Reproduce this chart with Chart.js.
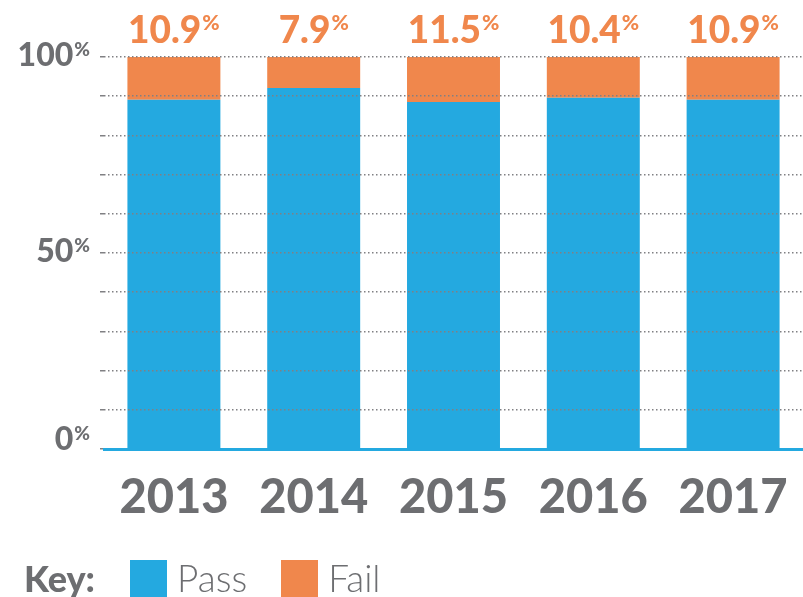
<!DOCTYPE html>
<html>
<head>
<meta charset="utf-8">
<script src="https://cdn.jsdelivr.net/npm/chart.js@4"></script>
<style>
  html, body { margin: 0; background: #fff; overflow: hidden; }
  #wrap { position: relative; width: 803px; height: 597px; overflow: hidden; }
  #key { position: absolute; left: 24px; top: 559px; display: flex; align-items: center; font-family: Lato, sans-serif; color: #6d6e71; line-height: 38px; }
  #key .title { font-weight: 900; font-size: 36px; margin-right: 35px; }
  #key .item { display: flex; align-items: center; margin-right: 34px; font-weight: 300; font-size: 37px; }
  #key .box { width: 37px; height: 37px; margin-right: 10px; }
</style>
</head>
<body>
<div id="wrap">
  <canvas id="chart"></canvas>
  <div id="key"><span class="title">Key:</span></div>
</div>
<script>
// data
const years = ["2013", "2014", "2015", "2016", "2017"];
const passPct = [89.1, 92.1, 88.5, 89.6, 89.1];
const failPct = [10.9, 7.9, 11.5, 10.4, 10.9];
const yTickLabels = [0, 50, 100];

const seriesNames = ["Pass", "Fail"];
const blue = "#24a9e0";
const orange = "#f0874c";
const grey = "#6d6e71";

// number with a small raised "%"
function drawPercent(ctx, num, x, baseline, big, small, color, align) {
    ctx.save();
    ctx.fillStyle = color;
    ctx.textBaseline = "alphabetic";
    ctx.textAlign = "left";
    ctx.font = "900 " + big + "px Lato";
    const wNum = ctx.measureText(num).width;
    ctx.font = "900 " + small + "px Lato";
    const wPct = ctx.measureText("%").width;
    const total = wNum + 1 + wPct;
    let left = x - total / 2;
    if (align === "right") left = x - total;
    ctx.font = "900 " + big + "px Lato";
    ctx.fillText(num, left, baseline);
    ctx.font = "900 " + small + "px Lato";
    ctx.fillText("%", left + wNum + 1, baseline - 0.72 * big + 0.72 * small - 1);
    ctx.restore();
}

const labelPlugin = {
    id: "labelPlugin",
    afterDraw(chart) {
        const ctx = chart.ctx;
        // y tick labels
        const y = chart.scales.y;
        yTickLabels.forEach(v => {
            const py = y.getPixelForValue(v);
            const off = v === 0 ? 1 : 9;
            drawPercent(ctx, String(v), 90, py + off, 32, 19, grey, "right");
        });
        // values on top of each stack
        const meta = chart.getDatasetMeta(1);
        meta.data.forEach((bar, i) => {
            drawPercent(ctx, failPct[i].toFixed(1), bar.x, bar.y - 14, 37, 21, orange, "center");
        });
    }
};

const ctx = document.getElementById("chart").getContext("2d");
const chart = new Chart(ctx, {
    type: "bar",
    data: {
        labels: years,
        datasets: [
            { label: seriesNames[0], data: passPct, backgroundColor: blue },
            { label: seriesNames[1], data: failPct, backgroundColor: orange }
        ]
    },
    options: {
        responsive: true,
        maintainAspectRatio: false,
        animation: false,
        layout: { padding: { top: 57, right: -2, bottom: 58, left: 0 } },
        datasets: { bar: { categoryPercentage: 1, barPercentage: 0.665 } },
        plugins: { legend: { display: false }, tooltip: { enabled: false } },
        scales: {
            x: {
                stacked: true,
                grid: { display: false, drawTicks: false },
                border: { display: true, color: blue, width: 3, z: 2 },
                ticks: {
                    color: grey,
                    padding: 21,
                    font: { family: "Lato", size: 47, weight: 900 }
                },
                afterFit(scale) {
                    scale.height = 90;
                    scale.paddingLeft = 0;
                    scale.paddingRight = 0;
                }
            },
            y: {
                stacked: true,
                min: 0,
                max: 100,
                ticks: { stepSize: 10, display: false },
                grid: {
                    color: "#808083",
                    lineWidth: 1.5,
                    tickLength: 4,
                    z: 1
                },
                border: { display: false, dash: [1.5, 2.5] },
                afterFit(scale) { scale.width = 104; }
            }
        }
    },
    plugins: [labelPlugin]
});

// key row built from the dataset names and colours
const key = document.getElementById("key");
chart.data.datasets.forEach(ds => {
    const item = document.createElement("span");
    item.className = "item";
    const box = document.createElement("span");
    box.className = "box";
    box.style.background = ds.backgroundColor;
    item.appendChild(box);
    item.appendChild(document.createTextNode(ds.label));
    key.appendChild(item);
});
</script>
</body>
</html>
